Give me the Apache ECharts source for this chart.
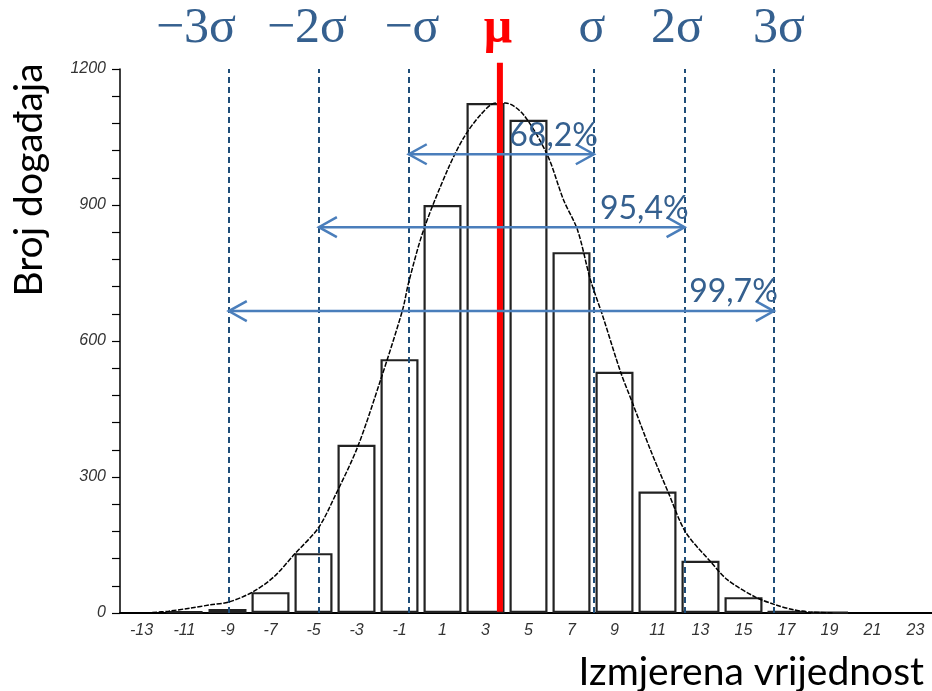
<!DOCTYPE html>
<html>
<head>
<meta charset="utf-8">
<title>Normalna raspodjela</title>
<script src="https://cdn.jsdelivr.net/npm/echarts@6.0.0/dist/echarts.min.js"></script>
<style>
    html, body { margin: 0; padding: 0; background: #fff; }
    #echarts1 { width: 932px; height: 691px; }
</style>
</head>
<body>
<div id="echarts1"></div>
<script>
// histogram (bin centres / counts)
var binCenters = [-11, -9, -7, -5, -3, -1, 1, 3, 5, 7, 9, 11, 13, 15, 17, 19];
var binCounts = [4, 9, 46, 132, 371, 560, 900, 1125, 1088, 796, 532, 268, 115, 35, 5, 2];

// fitted curve
var curveX = [-12.5, -11.74, -10.72, -9.79, -8.95, -7.84, -6.86, -5.88, -4.77, -3.98, -2.95, -1.88, -0.86, -0.58, 0.12, 1.23, 1.98, 2.77, 3.47, 3.93, 4.77, 5.88, 6.63, 7.28, 7.88, 8.44, 9.28, 9.84, 10.67, 11.51, 12.30, 13.47, 14.26, 15.56, 16.49, 17.33, 18.12, 19.2];
var curveY = [1, 4, 11, 18, 24, 46, 79, 130, 188, 260, 366, 514, 668, 728, 845, 977, 1048, 1099, 1125, 1125, 1099, 1010, 911, 845, 735, 657, 532, 463, 360, 265, 179, 113, 73, 35, 18, 7, 2, 0];

// sigma lines and mean
var sigmaPos = [-8.94, -4.75, -0.57, 8.04, 12.26, 16.41];
var meanPos = 3.67;
var meanSpan = [3, 1214];
var topLabels = ['\u22123\u03c3', '\u22122\u03c3', '\u2212\u03c3', '\u03bc', '\u03c3', '2\u03c3', '3\u03c3'];

// arrows between sigma lines
var arrowLevels = [1012, 851, 666];
var arrowLabels = ['68,2%', '95,4%', '99,7%'];

var xTickLabels = [-13, -11, -9, -7, -5, -3, -1, 1, 3, 5, 7, 9, 11, 13, 15, 17, 19, 21, 23];
var yTickLabels = [0, 300, 600, 900, 1200];

var echarts1_func = function () {
    var barData = [];
    for (var i = 0; i < binCenters.length; i++) {
        barData.push([binCenters[i], binCounts[i]]);
    }
    var curveData = [];
    for (var j = 0; j < curveX.length; j++) {
        curveData.push([curveX[j], curveY[j]]);
    }
    var arrowData = [];
    for (var k = 0; k < arrowLevels.length; k++) {
        arrowData.push([sigmaPos[2 - k], sigmaPos[3 + k], arrowLevels[k], k]);
    }
    var sigmaLines = [];
    for (var s = 0; s < sigmaPos.length; s++) {
        sigmaLines.push({ xAxis: sigmaPos[s] });
    }

    // text above the plot: -3s ... 3s
    var labelX = [196, 307, 412, 498, 592, 677, 779];
    var graphics = [];
    for (var t = 0; t < topLabels.length; t++) {
        var isMu = topLabels[t] == '\u03bc';
        graphics.push({
            type: 'text',
            x: labelX[t],
            y: 29,
            style: {
                text: topLabels[t],
                font: (isMu ? 'bold ' : '') + '50px "Liberation Serif", serif',
                fill: isMu ? '#ff0000' : '#35608f',
                align: 'center',
                verticalAlign: 'middle'
            }
        });
    }
    graphics.push({
        type: 'text',
        x: 29,
        y: 180,
        rotation: Math.PI / 2,
        style: {
            text: 'Broj događaja',
            font: '39px Lato, sans-serif',
            fill: '#000',
            align: 'center',
            verticalAlign: 'middle'
        }
    });
    graphics.push({
        type: 'text',
        x: 924,
        y: 672,
        style: {
            text: 'Izmjerena vrijednost',
            font: '39px Lato, sans-serif',
            fill: '#000',
            align: 'right',
            verticalAlign: 'middle'
        }
    });

    var echarts1 = echarts.init(document.getElementById('echarts1'));
    var option1 = {
        animation: false,
        backgroundColor: '#fff',
        grid: {
            left: 120,
            top: 69,
            bottom: 78,
            width: 817,
            outerBoundsMode: 'none'
        },
        xAxis: {
            type: 'value',
            min: -14,
            max: 24,
            interval: 1,
            splitLine: { show: false },
            axisTick: { show: false },
            axisLine: { onZero: false, lineStyle: { color: '#000', width: 2 } },
            axisLabel: {
                margin: 10,
                color: '#333',
                fontSize: 16,
                fontStyle: 'italic',
                fontFamily: '"Liberation Sans", Arial, sans-serif',
                formatter: function (v) {
                    return xTickLabels.indexOf(v) >= 0 ? String(v) : '';
                }
            }
        },
        yAxis: {
            type: 'value',
            min: 0,
            max: 1200,
            interval: 60,
            splitLine: { show: false },
            axisLine: { show: true, onZero: false, lineStyle: { color: '#000', width: 1.5 } },
            axisTick: { show: true, length: 8, lineStyle: { color: '#000', width: 1.2 } },
            axisLabel: {
                margin: 14,
                color: '#333',
                fontSize: 16,
                fontStyle: 'italic',
                fontFamily: '"Liberation Sans", Arial, sans-serif',
                formatter: function (v) {
                    return yTickLabels.indexOf(v) >= 0 ? String(v) : '';
                }
            }
        },
        graphic: graphics,
        series: [
            {
                name: 'histogram',
                type: 'bar',
                z: 2,
                barWidth: 38,
                itemStyle: {
                    color: '#fff',
                    borderColor: '#222',
                    borderWidth: 2.2
                },
                data: barData
            },
            {
                name: 'curve',
                type: 'line',
                z: 4,
                smooth: 0.3,
                showSymbol: false,
                lineStyle: { color: '#000', width: 1.5, type: [5, 1.5] },
                data: curveData,
                markLine: {
                    silent: true,
                    z: 4,
                    symbol: 'none',
                    label: { show: false },
                    lineStyle: { color: '#1f4e79', width: 2, type: [6, 4] },
                    data: sigmaLines
                }
            },
            {
                name: 'mean',
                type: 'line',
                z: 5,
                clip: false,
                showSymbol: false,
                lineStyle: { color: '#ff0000', width: 6 },
                data: [[meanPos, meanSpan[0]], [meanPos, meanSpan[1]]]
            },
            {
                name: 'arrows',
                type: 'custom',
                z: 6,
                encode: { x: [0, 1], y: 2 },
                renderItem: function (params, api) {
                    var p1 = api.coord([api.value(0), api.value(2)]);
                    var p2 = api.coord([api.value(1), api.value(2)]);
                    var c = '#4a7ebb';
                    var hl = 18, hw = 10;
                    return {
                        type: 'group',
                        children: [
                            { type: 'line', shape: { x1: p1[0], y1: p1[1], x2: p2[0], y2: p2[1] },
                              style: { stroke: c, lineWidth: 2.5 } },
                            { type: 'polyline', shape: { points: [[p1[0] + hl, p1[1] - hw], [p1[0], p1[1]], [p1[0] + hl, p1[1] + hw]] },
                              style: { stroke: c, lineWidth: 2.5, fill: 'none' } },
                            { type: 'polyline', shape: { points: [[p2[0] - hl, p2[1] - hw], [p2[0], p2[1]], [p2[0] - hl, p2[1] + hw]] },
                              style: { stroke: c, lineWidth: 2.5, fill: 'none' } },
                            { type: 'text', x: p2[0] + 4, y: p2[1] - 3,
                              style: { text: arrowLabels[api.value(3)], font: '32px Lato, sans-serif', fill: '#35608f',
                                       align: 'right', verticalAlign: 'bottom' } }
                        ]
                    };
                },
                data: arrowData
            }
        ]
    };
    echarts1.setOption(option1);
};

echarts1_func();
</script>
</body>
</html>
